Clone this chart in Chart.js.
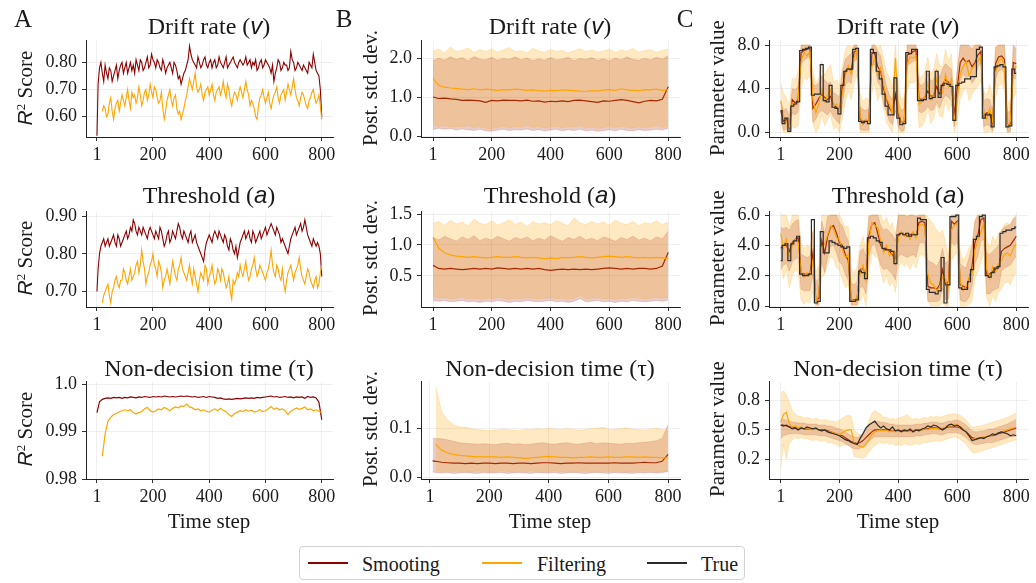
<!DOCTYPE html>
<html><head><meta charset="utf-8">
<script src="https://cdn.jsdelivr.net/npm/chart.js@4.4.1/dist/chart.umd.min.js"></script>
<style>
html,body{margin:0;padding:0;background:#fff}
#fig{position:relative;width:1036px;height:583px;overflow:hidden;background:#fff}
canvas{position:absolute}
.t{position:absolute;font-family:'Liberation Serif',serif;color:#1a1a1a;white-space:nowrap;line-height:1}
.c{transform:translate(-50%,-50%)}
.ttl{font-size:24px}
.yl{font-size:21px;transform:translate(-50%,-50%) rotate(-90deg)}
.xl{font-size:21px}
.pl{font-size:25px}
.m{font-family:'Liberation Sans',sans-serif;font-style:italic}
sup{font-size:0.62em;vertical-align:0.55em;line-height:0}
#leg{position:absolute;left:299px;top:546px;width:446px;height:34px;border:1px solid #d2d2d2;border-radius:4px;box-sizing:border-box;background:#fff}
.ls{position:absolute;top:15px;height:2px}
.lt{position:absolute;font-family:'Liberation Serif',serif;font-size:20px;line-height:1;top:7px;color:#1a1a1a}
</style></head>
<body><div id="fig">
<div class="t pl c" style="left:23px;top:18px">A</div>
<div class="t pl c" style="left:344px;top:18px">B</div>
<div class="t pl c" style="left:685px;top:18px">C</div>

<div class="t ttl c" style="left:209px;top:26px">Drift rate (<span class="m">v</span>)</div>
<div class="t ttl c" style="left:550px;top:26px">Drift rate (<span class="m">v</span>)</div>
<div class="t ttl c" style="left:898px;top:26px">Drift rate (<span class="m">v</span>)</div>
<div class="t ttl c" style="left:209px;top:195px">Threshold (<span class="m">a</span>)</div>
<div class="t ttl c" style="left:550px;top:195px">Threshold (<span class="m">a</span>)</div>
<div class="t ttl c" style="left:898px;top:195px">Threshold (<span class="m">a</span>)</div>
<div class="t ttl c" style="left:209px;top:368px">Non-decision time (τ)</div>
<div class="t ttl c" style="left:550px;top:368px">Non-decision time (τ)</div>
<div class="t ttl c" style="left:898px;top:368px">Non-decision time (τ)</div>

<div class="t yl" style="left:25px;top:88px"><span class="m">R</span><sup>2</sup> Score</div>
<div class="t yl" style="left:25px;top:258px"><span class="m">R</span><sup>2</sup> Score</div>
<div class="t yl" style="left:25px;top:429px"><span class="m">R</span><sup>2</sup> Score</div>
<div class="t yl" style="left:370px;top:88px">Post. std. dev.</div>
<div class="t yl" style="left:370px;top:258px">Post. std. dev.</div>
<div class="t yl" style="left:370px;top:429px">Post. std. dev.</div>
<div class="t yl" style="left:717px;top:88px">Parameter value</div>
<div class="t yl" style="left:717px;top:258px">Parameter value</div>
<div class="t yl" style="left:717px;top:429px">Parameter value</div>

<div class="t xl c" style="left:209px;top:521px">Time step</div>
<div class="t xl c" style="left:550px;top:521px">Time step</div>
<div class="t xl c" style="left:898px;top:521px">Time step</div>

<div id="leg">
<div class="ls" style="left:8px;width:40px;background:#8b0000"></div><div class="lt" style="left:62px">Smooting</div>
<div class="ls" style="left:182px;width:40px;background:#ffa500"></div><div class="lt" style="left:237px">Filtering</div>
<div class="ls" style="left:347px;width:40px;background:#2b2b2b"></div><div class="lt" style="left:401px">True</div>
</div>
</div>
<script>
// ---------- x grids (time steps) ----------
const S5 = [1,
5,10,15,20,25,30,35,40,45,50,55,60,65,70,75,80,85,90,95,100,
105,110,115,120,125,130,135,140,145,150,155,160,165,170,175,180,185,190,195,200,
205,210,215,220,225,230,235,240,245,250,255,260,265,270,275,280,285,290,295,300,
305,310,315,320,325,330,335,340,345,350,355,360,365,370,375,380,385,390,395,400,
405,410,415,420,425,430,435,440,445,450,455,460,465,470,475,480,485,490,495,500,
505,510,515,520,525,530,535,540,545,550,555,560,565,570,575,580,585,590,595,600,
605,610,615,620,625,630,635,640,645,650,655,660,665,670,675,680,685,690,695,700,
705,710,715,720,725,730,735,740,745,750,755,760,765,770,775,780,785,790,795,800];
const S10 = [1,10,20,30,40,50,60,70,80,90,100,110,120,130,140,150,160,170,180,190,200,210,220,230,240,250,260,270,280,290,300,310,320,330,340,350,360,370,380,390,400,410,420,430,440,450,460,470,480,490,500,510,520,530,540,550,560,570,580,590,600,610,620,630,640,650,660,670,680,690,700,710,720,730,740,750,760,770,780,790,800];
const S20 = [1,20,40,60,80,100,120,140,160,180,200,220,240,260,280,300,320,340,360,380,400,420,440,460,480,500,520,540,560,580,600,620,640,660,680,700,720,740,760,780,800];
const S20b = [10,20,40,60,80,100,120,140,160,180,200,220,240,260,280,300,320,340,360,380,400,420,440,460,480,500,520,540,560,580,600,620,640,660,680,700,720,740,760,780,800];

// ---------- tick values / labels ----------
const xTicks = [1,200,400,600,800];
const xTickLabels = ['1','200','400','600','800'];
const yTicksA1=[0.6,0.7,0.8], yLabA1=['0.60','0.70','0.80'];
const yTicksA2=[0.7,0.8,0.9], yLabA2=['0.70','0.80','0.90'];
const yTicksA3=[0.98,0.99,1.0], yLabA3=['0.98','0.99','1.0'];
const yTicksB1=[0,1,2], yLabB1=['0.0','1.0','2.0'];
const yTicksB2=[0.5,1.0,1.5], yLabB2=['0.5','1.0','1.5'];
const yTicksB3=[0,0.1], yLabB3=['0.0','0.1'];
const yTicksC1=[0,4,8], yLabC1=['0.0','4.0','8.0'];
const yTicksC2=[0,2,4,6], yLabC2=['0.0','2.0','4.0','6.0'];
const yTicksC3=[0.2,0.5,0.8], yLabC3=['0.2','0.5','0.8'];

// ---------- A: R2 scores ----------
const A1_smooth=[0.53,
0.72,0.78,0.80,0.76,0.73,0.79,0.76,0.74,0.78,0.77,0.73,0.75,0.77,0.79,0.74,0.77,0.79,0.80,0.76,0.78,
0.80,0.76,0.78,0.80,0.77,0.79,0.76,0.81,0.79,0.77,0.81,0.80,0.77,0.78,0.80,0.82,0.78,0.79,0.83,0.81,
0.80,0.78,0.81,0.80,0.78,0.77,0.81,0.79,0.76,0.78,0.79,0.80,0.78,0.76,0.80,0.79,0.77,0.74,0.75,0.72,
0.74,0.76,0.77,0.79,0.81,0.86,0.83,0.81,0.80,0.79,0.78,0.82,0.80,0.78,0.79,0.81,0.82,0.79,0.78,0.80,
0.81,0.78,0.80,0.81,0.78,0.79,0.82,0.80,0.79,0.78,0.80,0.82,0.78,0.79,0.80,0.81,0.82,0.80,0.79,0.78,
0.80,0.81,0.80,0.79,0.80,0.82,0.79,0.80,0.81,0.78,0.80,0.79,0.81,0.77,0.78,0.80,0.81,0.78,0.79,0.81,
0.80,0.79,0.78,0.76,0.79,0.73,0.76,0.78,0.81,0.80,0.77,0.78,0.80,0.79,0.79,0.77,0.78,0.84,0.81,0.80,
0.77,0.78,0.80,0.79,0.78,0.77,0.79,0.78,0.77,0.76,0.80,0.79,0.78,0.83,0.80,0.77,0.76,0.75,0.70,0.60];
const A1_filter=[null,
null,null,null,0.62,0.64,0.63,0.60,0.61,0.65,0.67,0.62,0.59,0.63,0.65,0.66,0.62,0.65,0.68,0.66,0.64,
0.67,0.70,0.66,0.63,0.69,0.67,0.68,0.65,0.67,0.71,0.68,0.64,0.66,0.69,0.70,0.66,0.68,0.72,0.69,0.67,
0.71,0.70,0.67,0.65,0.66,0.69,0.63,0.59,0.62,0.66,0.68,0.70,0.66,0.64,0.67,0.68,0.63,0.61,0.62,0.59,
0.61,0.63,0.66,0.68,0.71,0.74,0.72,0.70,0.73,0.76,0.71,0.69,0.70,0.72,0.68,0.66,0.69,0.70,0.71,0.68,
0.70,0.72,0.68,0.66,0.69,0.70,0.71,0.68,0.70,0.73,0.69,0.67,0.72,0.70,0.66,0.64,0.67,0.69,0.68,0.66,
0.69,0.71,0.69,0.67,0.70,0.73,0.70,0.68,0.64,0.66,0.65,0.63,0.60,0.59,0.64,0.67,0.68,0.70,0.67,0.65,
0.67,0.69,0.65,0.63,0.66,0.68,0.69,0.71,0.67,0.65,0.68,0.69,0.70,0.66,0.69,0.72,0.70,0.68,0.71,0.74,
0.70,0.67,0.66,0.64,0.67,0.69,0.68,0.66,0.64,0.63,0.66,0.67,0.69,0.70,0.67,0.65,0.66,0.68,0.64,0.59];
const A2_smooth=[0.70,
0.76,0.80,0.82,0.83,0.84,0.82,0.83,0.84,0.82,0.83,0.84,0.85,0.83,0.82,0.85,0.84,0.82,0.83,0.84,0.85,
0.86,0.84,0.85,0.87,0.86,0.89,0.88,0.86,0.85,0.87,0.86,0.85,0.87,0.86,0.85,0.84,0.86,0.87,0.86,0.85,
0.84,0.86,0.85,0.84,0.87,0.86,0.84,0.82,0.83,0.85,0.86,0.83,0.84,0.86,0.85,0.84,0.86,0.88,0.87,0.85,
0.84,0.86,0.85,0.84,0.83,0.85,0.86,0.83,0.84,0.85,0.83,0.82,0.81,0.80,0.79,0.78,0.81,0.83,0.84,0.85,
0.84,0.83,0.85,0.86,0.85,0.84,0.86,0.85,0.84,0.83,0.85,0.84,0.82,0.81,0.84,0.83,0.81,0.80,0.82,0.79,
0.81,0.83,0.84,0.85,0.86,0.84,0.85,0.86,0.84,0.83,0.86,0.85,0.83,0.84,0.85,0.86,0.84,0.85,0.86,0.87,
0.85,0.86,0.87,0.88,0.87,0.86,0.85,0.87,0.86,0.85,0.83,0.84,0.83,0.82,0.81,0.80,0.82,0.84,0.85,0.86,
0.87,0.85,0.86,0.87,0.88,0.86,0.87,0.89,0.87,0.85,0.84,0.83,0.82,0.84,0.83,0.82,0.83,0.82,0.80,0.74];
const A2_filter=[null,
null,null,null,0.67,0.69,0.70,0.71,0.72,0.69,0.67,0.70,0.71,0.73,0.74,0.72,0.71,0.73,0.73,0.76,0.75,
0.73,0.72,0.74,0.76,0.73,0.74,0.75,0.77,0.78,0.75,0.77,0.81,0.78,0.76,0.72,0.74,0.75,0.77,0.78,0.80,
0.77,0.76,0.74,0.78,0.77,0.75,0.71,0.73,0.74,0.76,0.74,0.72,0.75,0.78,0.76,0.74,0.73,0.76,0.77,0.79,
0.76,0.75,0.74,0.73,0.75,0.77,0.74,0.72,0.76,0.74,0.72,0.70,0.73,0.75,0.74,0.73,0.77,0.76,0.72,0.74,
0.75,0.77,0.74,0.72,0.73,0.76,0.75,0.73,0.76,0.75,0.73,0.71,0.72,0.74,0.70,0.68,0.73,0.72,0.73,0.75,
0.74,0.77,0.75,0.74,0.76,0.78,0.75,0.73,0.74,0.76,0.77,0.79,0.76,0.74,0.75,0.77,0.76,0.75,0.74,0.73,
0.75,0.76,0.78,0.81,0.77,0.75,0.74,0.77,0.76,0.74,0.73,0.76,0.72,0.70,0.73,0.75,0.76,0.77,0.75,0.73,
0.75,0.76,0.77,0.79,0.76,0.74,0.73,0.72,0.74,0.76,0.75,0.73,0.72,0.71,0.73,0.74,0.71,0.72,0.75,0.77];
const A3_smooth=[0.9940,
0.9963,0.9968,0.9970,0.9971,0.9970,0.9972,0.9971,0.9972,0.9970,0.9972,
0.9971,0.9973,0.9972,0.9971,0.9973,0.9972,0.9974,0.9973,0.9972,0.9974,
0.9973,0.9974,0.9973,0.9975,0.9974,0.9973,0.9974,0.9973,0.9974,0.9975,
0.9974,0.9975,0.9974,0.9973,0.9974,0.9972,0.9973,0.9974,0.9972,0.9974,
0.9973,0.9972,0.9970,0.9971,0.9969,0.9968,0.9969,0.9968,0.9969,0.9970,
0.9969,0.9970,0.9971,0.9970,0.9971,0.9970,0.9972,0.9971,0.9972,0.9973,
0.9974,0.9975,0.9973,0.9974,0.9972,0.9973,0.9974,0.9972,0.9973,0.9971,
0.9973,0.9972,0.9973,0.9970,0.9974,0.9972,0.9973,0.9971,0.9962,0.9925];
const A3_filter=[null,
null,0.9848,0.9895,0.9922,0.9930,0.9936,0.9938,0.9942,0.9944,0.9946,
0.9944,0.9946,0.9940,0.9937,0.9940,0.9942,0.9948,0.9951,0.9944,0.9941,
0.9944,0.9948,0.9946,0.9951,0.9948,0.9944,0.9949,0.9952,0.9950,0.9954,
0.9953,0.9958,0.9952,0.9950,0.9946,0.9948,0.9944,0.9946,0.9943,0.9941,
0.9945,0.9948,0.9944,0.9949,0.9945,0.9942,0.9936,0.9932,0.9938,0.9941,
0.9944,0.9942,0.9946,0.9943,0.9945,0.9941,0.9943,0.9946,0.9942,0.9944,
0.9948,0.9953,0.9947,0.9950,0.9946,0.9948,0.9944,0.9936,0.9943,0.9946,
0.9950,0.9947,0.9949,0.9952,0.9946,0.9948,0.9944,0.9946,0.9943,0.9940];

// ---------- B: posterior std. dev. ----------
const B1_smooth=[1.02, 0.98,0.99,0.97,0.96,0.93,0.94,0.93,0.92,0.88,0.93, 0.92,0.94,0.93,0.93,0.92,0.94,0.91,0.92,0.89,0.91, 0.90,0.92,0.90,0.93,0.94,0.92,0.90,0.88,0.92,0.91, 0.93,0.95,0.93,0.90,0.87,0.91,0.93,0.92,0.96,1.28];
const B1_filter=[1.50, 1.32,1.27,1.25,1.24,1.22,1.21,1.23,1.20,1.22,1.21, 1.19,1.21,1.20,1.22,1.21,1.19,1.20,1.18,1.17,1.19, 1.18,1.20,1.19,1.18,1.17,1.16,1.18,1.17,1.20,1.21, 1.19,1.23,1.20,1.19,1.18,1.21,1.20,1.22,1.19,1.21];
const B1_fHi=[2.20, 2.25,2.15,2.30,2.18,2.22,2.28,2.16,2.24,2.19,2.26, 2.17,2.23,2.29,2.18,2.21,2.15,2.27,2.20,2.16,2.24, 2.19,2.22,2.15,2.21,2.26,2.18,2.23,2.17,2.20,2.25, 2.16,2.22,2.19,2.27,2.17,2.21,2.24,2.16,2.22,2.25];
const B1_fLo=[0.30, 0.26,0.28,0.24,0.27,0.25,0.29,0.23,0.26,0.22,0.20, 0.24,0.27,0.23,0.26,0.25,0.28,0.24,0.26,0.22,0.25, 0.27,0.23,0.26,0.24,0.28,0.22,0.25,0.21,0.24,0.26, 0.23,0.27,0.24,0.22,0.26,0.23,0.25,0.28,0.24,0.27];
const B1_sHi=[1.95, 2.02,1.96,2.05,1.98,2.03,1.94,2.06,1.99,1.97,2.04, 1.96,2.01,1.98,2.05,1.97,2.02,1.95,2.00,1.96,2.03, 1.97,1.99,2.04,1.95,2.01,1.98,2.03,1.96,2.00,1.94, 2.02,1.97,2.05,1.98,1.96,2.01,1.97,2.04,1.99,2.08];
const B1_sLo=[0.18, 0.22,0.19,0.21,0.17,0.20,0.18,0.16,0.19,0.15,0.14, 0.17,0.19,0.16,0.18,0.17,0.20,0.16,0.18,0.15,0.17, 0.19,0.15,0.18,0.16,0.19,0.15,0.17,0.14,0.16,0.18, 0.15,0.19,0.16,0.15,0.18,0.16,0.17,0.19,0.17,0.22];

const B2_smooth=[0.67, 0.62,0.61,0.62,0.61,0.60,0.61,0.62,0.61,0.62,0.61, 0.63,0.62,0.61,0.62,0.61,0.62,0.61,0.62,0.60,0.59, 0.60,0.61,0.60,0.61,0.60,0.61,0.60,0.61,0.62,0.63, 0.62,0.61,0.62,0.61,0.62,0.62,0.61,0.62,0.66,0.88];
const B2_filter=[1.13, 0.95,0.87,0.84,0.82,0.81,0.80,0.81,0.80,0.79,0.80, 0.81,0.80,0.80,0.81,0.80,0.79,0.80,0.79,0.78,0.79, 0.78,0.80,0.79,0.80,0.81,0.80,0.79,0.80,0.81,0.82, 0.81,0.80,0.81,0.80,0.79,0.80,0.79,0.80,0.79,0.78];
const B2_fHi=[1.35, 1.38,1.32,1.40,1.34,1.37,1.31,1.42,1.35,1.33,1.39, 1.32,1.36,1.41,1.33,1.37,1.30,1.38,1.34,1.36,1.33, 1.39,1.35,1.31,1.44,1.36,1.33,1.38,1.34,1.37,1.32, 1.40,1.35,1.33,1.38,1.31,1.36,1.34,1.39,1.33,1.37];
const B2_fLo=[0.16, 0.14,0.15,0.13,0.14,0.15,0.13,0.14,0.12,0.14,0.13, 0.15,0.14,0.12,0.14,0.13,0.15,0.14,0.13,0.14,0.15, 0.13,0.14,0.12,0.14,0.18,0.13,0.14,0.15,0.13,0.14, 0.12,0.14,0.13,0.15,0.14,0.13,0.14,0.15,0.14,0.16];
const B2_sHi=[1.12, 1.08,1.14,1.10,1.06,1.13,1.09,1.15,1.07,1.11,1.08, 1.14,1.10,1.06,1.12,1.09,1.13,1.07,1.11,1.08,1.15, 1.10,1.06,1.12,1.09,1.14,1.08,1.11,1.07,1.13,1.10, 1.06,1.12,1.09,1.14,1.08,1.11,1.07,1.13,1.10,1.22];
const B2_sLo=[0.10, 0.09,0.10,0.08,0.09,0.10,0.08,0.09,0.07,0.09,0.08, 0.10,0.09,0.07,0.09,0.08,0.10,0.09,0.08,0.09,0.10, 0.08,0.09,0.07,0.09,0.13,0.08,0.09,0.10,0.08,0.09, 0.07,0.09,0.08,0.10,0.09,0.08,0.09,0.10,0.09,0.11];

const B3_smooth=[0.034, 0.033,0.031,0.030,0.029,0.029,0.028,0.029,0.028,0.029,0.029, 0.028,0.029,0.029,0.028,0.029,0.029,0.028,0.029,0.030,0.030, 0.029,0.028,0.029,0.029,0.030,0.029,0.029,0.029,0.029,0.029, 0.030,0.029,0.029,0.029,0.030,0.031,0.030,0.030,0.033,0.047];
const B3_sHi=[0.080, 0.080,0.079,0.077,0.074,0.071,0.070,0.069,0.068,0.069,0.068, 0.067,0.069,0.070,0.068,0.069,0.067,0.068,0.070,0.071,0.069, 0.068,0.070,0.071,0.069,0.068,0.070,0.072,0.069,0.071,0.070, 0.069,0.068,0.070,0.069,0.071,0.072,0.073,0.075,0.080,0.108];
const B3_sLo=[0.011, 0.010,0.009,0.010,0.008,0.009,0.010,0.009,0.008,0.010,0.009, 0.009,0.010,0.008,0.009,0.010,0.009,0.008,0.010,0.009,0.009, 0.010,0.008,0.009,0.010,0.009,0.008,0.009,0.010,0.009,0.008, 0.010,0.009,0.009,0.008,0.010,0.009,0.010,0.009,0.010,0.012];
const B3_filter=[null, 0.068,0.056,0.050,0.047,0.045,0.044,0.043,0.042,0.042,0.042, 0.042,0.041,0.042,0.041,0.040,0.039,0.040,0.041,0.042,0.043, 0.042,0.041,0.041,0.040,0.041,0.041,0.042,0.041,0.041,0.042, 0.041,0.041,0.042,0.042,0.041,0.042,0.041,0.041,0.040,0.040];
const B3_fHi=[null, 0.188,0.135,0.118,0.108,0.104,0.103,0.100,0.098,0.097,0.096, 0.097,0.099,0.098,0.097,0.096,0.099,0.098,0.100,0.099,0.101, 0.099,0.098,0.100,0.099,0.097,0.098,0.100,0.101,0.103,0.099, 0.098,0.100,0.102,0.099,0.098,0.097,0.099,0.101,0.098,0.097];
const B3_fLo=[null, 0.014,0.013,0.012,0.013,0.012,0.011,0.012,0.013,0.012,0.011, 0.012,0.013,0.012,0.011,0.012,0.012,0.013,0.012,0.011,0.012, 0.013,0.012,0.012,0.011,0.012,0.013,0.012,0.011,0.012,0.012, 0.013,0.012,0.011,0.012,0.012,0.013,0.012,0.011,0.012,0.013];

// ---------- C: parameter values ----------
const C1_true=[2.0,
0.8,1.3,0.1,2.4,2.6,2.8,7.5,7.6,7.7,7.8,
3.4,3.5,3.5,6.2,2.9,2.8,4.3,2.3,2.2,1.7,
4.3,5.6,5.8,5.8,7.6,7.7,1.0,0.9,1.0,0.8,
7.6,7.3,5.6,4.9,3.5,2.4,1.6,1.6,5.0,1.3,
0.7,0.8,7.3,7.2,7.6,7.6,2.9,2.9,3.0,5.6,
3.1,3.2,5.6,3.2,4.3,4.5,4.4,4.2,1.1,4.3,
4.5,4.6,4.9,4.9,5.1,5.1,7.6,7.8,1.3,1.6,
1.6,0.5,6.0,6.1,6.2,6.0,0.5,0.6,5.8,5.4];
const C1_smooth=[2.0,
1.0,1.2,0.4,3.0,2.7,3.0,7.3,7.5,7.6,7.7,
2.2,2.6,3.1,3.5,3.2,3.0,3.3,2.5,2.3,2.0,
4.0,5.6,5.9,5.7,7.4,7.5,1.2,1.0,1.0,1.0,
7.3,7.2,6.0,5.6,4.0,3.0,2.2,1.8,3.5,1.6,
0.9,1.0,7.1,7.2,7.4,7.5,3.1,3.0,3.2,3.8,
3.3,3.4,4.2,3.5,4.4,4.8,4.6,4.3,1.6,4.1,
6.4,6.8,6.4,6.6,6.0,6.4,7.1,7.4,1.5,1.8,
1.7,0.8,6.3,6.9,7.0,6.7,0.6,0.8,6.4,6.3];
const C1_filter=[2.9,
1.5,1.0,0.5,2.7,2.5,2.9,6.5,7.3,7.0,7.4,
3.0,1.8,2.6,3.9,2.8,3.4,3.9,2.4,2.6,2.0,
3.6,5.2,6.1,5.3,6.8,7.6,1.5,0.7,1.2,0.9,
6.0,6.8,5.2,5.9,4.4,3.1,2.6,1.7,6.8,2.0,
0.9,1.1,6.2,6.9,6.8,7.0,2.6,2.8,3.3,4.5,
3.0,3.5,4.9,3.8,3.6,5.3,4.2,4.9,0.9,3.2,
5.4,6.0,6.5,5.2,5.8,6.2,6.5,7.0,1.6,1.2,
2.2,1.0,5.5,6.5,6.8,6.2,0.4,1.0,5.3,6.1];
const C1_sHi=[2.7,
2.0,2.2,1.5,4.0,3.9,4.2,8.0,8.0,8.0,8.0,
4.4,4.3,4.5,5.2,4.8,4.5,4.6,3.6,3.5,3.2,
5.5,6.7,7.0,7.2,8.0,8.0,2.4,2.1,2.0,2.2,
8.0,8.0,7.5,7.0,5.5,4.2,3.4,3.0,5.0,2.8,
2.0,2.2,8.0,8.0,8.0,8.0,4.4,4.3,4.6,5.5,
4.7,4.8,5.8,5.0,5.8,6.3,6.0,5.8,3.0,5.8,
8.0,8.0,8.0,8.0,7.6,8.0,8.0,8.0,2.9,3.1,
3.0,2.0,7.8,8.0,8.0,8.0,1.8,2.0,8.0,7.6];
const C1_sLo=[1.2,
0.2,0.3,0.0,1.8,1.6,1.9,6.3,6.6,6.8,6.9,
0.9,1.2,1.8,2.0,1.8,1.6,2.0,1.4,1.1,0.8,
2.5,4.3,4.7,4.5,6.5,6.7,0.3,0.2,0.2,0.2,
6.2,6.2,4.6,4.2,2.6,1.8,1.0,0.7,2.0,0.5,
0.1,0.2,6.1,6.3,6.5,6.7,1.9,1.8,2.0,2.4,
2.0,2.1,2.8,2.2,3.0,3.4,3.2,2.9,0.5,2.6,
4.8,5.4,5.0,5.2,4.5,4.9,6.0,6.4,0.5,0.7,
0.6,0.1,4.9,5.6,5.8,5.4,0.0,0.1,5.0,4.9];
const C1_fHi=[4.5,
3.6,3.2,2.5,5.0,4.8,5.5,8.0,8.0,8.0,8.0,
5.4,4.5,5.0,6.5,5.2,5.8,6.2,4.6,4.8,4.3,
6.0,7.6,8.0,7.8,8.0,8.0,3.6,2.8,3.2,3.0,
8.0,8.0,7.8,8.0,6.8,5.5,5.0,4.0,8.0,4.2,
3.0,3.2,8.0,8.0,8.0,8.0,5.0,5.1,5.6,6.9,
5.3,5.8,7.2,6.1,6.0,7.6,6.5,7.2,3.0,5.6,
7.8,8.0,8.0,7.6,8.0,8.0,8.0,8.0,3.8,3.4,
4.4,3.1,7.8,8.0,8.0,8.0,2.5,3.1,7.6,8.0];
const C1_fLo=[1.3,
0.0,0.0,0.0,0.5,0.4,0.6,4.0,5.0,4.8,5.2,
0.8,0.0,0.4,1.6,0.6,1.2,1.6,0.3,0.5,0.0,
1.3,2.8,3.8,3.0,4.5,5.3,0.0,0.0,0.0,0.0,
3.6,4.5,2.9,3.6,2.1,0.9,0.4,0.0,4.4,0.0,
0.0,0.0,3.9,4.6,4.5,4.8,0.4,0.6,1.1,2.2,
0.8,1.3,2.6,1.5,1.4,3.0,2.0,2.6,0.0,1.0,
3.1,3.7,4.2,2.9,3.5,3.9,4.2,4.8,0.0,0.0,
0.1,0.0,3.2,4.2,4.5,3.9,0.0,0.0,3.0,3.8];

const C2_true=[3.0,
4.0,4.1,3.0,4.1,4.3,4.6,2.1,2.0,2.0,2.1,
5.7,0.2,0.3,4.9,3.5,3.5,4.3,4.2,4.1,4.0,
3.9,3.8,3.9,0.3,0.3,0.4,2.3,2.2,1.8,4.5,
4.6,4.5,4.3,4.2,3.8,3.7,3.7,3.6,2.8,4.7,
4.8,4.7,4.8,4.6,4.7,4.7,5.8,5.7,5.7,1.1,
0.9,0.9,0.8,1.0,3.2,0.2,1.4,5.9,5.9,6.0,
1.2,1.1,1.1,1.6,2.4,4.4,4.6,5.9,6.0,2.0,
1.9,2.2,2.5,2.6,4.8,4.9,5.0,5.0,5.1,5.2];
const C2_smooth=[3.8,
4.0,4.0,3.6,4.2,4.4,4.5,2.2,2.1,2.1,2.1,
3.5,0.4,0.5,4.3,3.5,4.6,5.2,5.3,4.8,4.2,
4.0,3.4,3.0,0.4,0.4,0.5,2.4,2.5,2.0,4.6,
5.4,5.5,4.8,4.0,3.7,3.8,3.6,3.4,3.0,4.7,
4.8,4.7,4.6,4.7,4.8,4.6,5.5,5.6,5.5,1.3,
1.2,1.2,1.1,1.4,2.4,1.4,1.6,5.6,5.4,5.6,
1.4,1.3,1.2,1.8,2.6,4.2,4.7,5.7,5.8,2.1,
2.1,2.3,2.4,2.5,3.6,3.8,3.9,4.0,4.3,4.6];
const C2_filter=[4.8,
3.8,4.4,3.2,4.0,4.4,4.2,2.3,1.9,2.2,2.0,
3.0,0.3,0.7,3.9,4.1,4.7,5.3,5.1,4.5,4.4,
3.7,3.2,3.4,0.5,0.3,0.6,2.1,2.7,1.7,4.2,
5.5,5.3,5.2,4.3,3.5,4.0,3.3,3.6,2.8,4.5,
4.9,4.6,4.8,4.4,4.9,4.5,5.3,5.4,5.2,2.1,
1.5,1.4,1.0,1.2,2.0,1.8,1.2,5.0,5.3,5.5,
1.6,1.0,1.3,1.9,2.1,3.7,4.3,4.9,5.5,2.4,
1.8,2.6,2.2,2.8,3.0,3.4,3.5,3.3,3.8,4.1];
const C2_sHi=[5.2,
5.1,5.2,5.0,5.4,5.6,5.7,3.4,3.3,3.2,3.3,
4.9,1.6,1.8,5.6,4.8,5.9,6.0,6.0,6.0,5.5,
5.3,4.7,4.3,1.5,1.4,1.6,3.6,3.8,3.3,5.9,
6.0,6.0,6.0,5.3,5.0,5.1,4.9,4.7,4.3,6.0,
6.0,6.0,5.9,6.0,6.0,5.9,6.0,6.0,6.0,3.0,
2.9,2.8,2.6,3.0,3.8,2.8,3.0,6.0,6.0,6.0,
2.8,2.6,2.5,3.2,4.0,5.6,6.0,6.0,6.0,3.5,
3.4,3.6,3.8,4.0,5.0,5.2,5.3,5.4,5.7,5.9];
const C2_sLo=[2.4,
2.7,2.8,2.3,2.9,3.1,3.2,1.1,1.0,1.0,1.0,
2.1,0.1,0.1,2.9,2.2,3.2,3.9,4.0,3.5,2.9,
2.7,2.1,1.7,0.1,0.1,0.1,1.2,1.3,0.8,3.2,
4.0,4.1,3.4,2.7,2.4,2.5,2.3,2.1,1.7,3.3,
3.4,3.3,3.2,3.3,3.4,3.2,4.1,4.2,4.1,0.3,
0.3,0.3,0.3,0.4,1.2,0.4,0.5,4.2,4.0,4.2,
0.4,0.3,0.3,0.6,1.3,2.8,3.3,4.3,4.4,0.8,
0.8,1.0,1.1,1.2,2.3,2.5,2.6,2.7,3.0,3.3];
const C2_fHi=[6.0,
6.0,6.0,5.2,6.0,6.0,6.0,4.2,3.8,4.0,3.9,
5.0,2.2,2.7,6.0,6.0,6.0,6.0,6.0,6.0,6.0,
5.6,5.2,5.3,2.5,2.2,2.6,4.0,4.6,3.6,6.0,
6.0,6.0,6.0,6.0,5.5,5.9,5.2,5.5,4.7,6.0,
6.0,6.0,6.0,6.0,6.0,6.0,6.0,6.0,6.0,5.9,
5.6,5.4,5.0,4.8,5.0,4.2,3.2,6.0,6.0,6.0,
3.6,3.0,3.3,3.9,4.1,5.7,6.0,6.0,6.0,4.4,
3.8,4.6,4.2,4.8,5.0,5.4,5.5,5.3,5.8,6.0];
const C2_fLo=[2.8,
1.8,2.4,1.2,2.0,2.4,2.2,0.4,0.1,0.3,0.2,
1.0,0.0,0.0,1.9,2.1,2.7,3.3,3.1,2.5,2.4,
1.7,1.2,1.4,0.0,0.0,0.0,0.3,0.8,0.0,2.2,
3.5,3.3,3.2,2.3,1.5,2.0,1.3,1.6,0.9,2.5,
2.9,2.6,2.8,2.4,2.9,2.5,3.3,3.4,3.2,0.4,
0.0,0.0,0.0,0.0,0.2,0.0,0.0,3.0,3.3,3.5,
0.0,0.0,0.0,0.1,0.3,1.8,2.3,2.9,3.5,0.5,
0.0,0.7,0.3,0.9,1.1,1.5,1.6,1.4,1.9,2.2];

const C3_true=[0.55,
0.54,0.55,0.53,0.51,0.52,0.50,0.52,0.51,0.53,0.52,
0.51,0.52,0.50,0.49,0.50,0.48,0.47,0.46,0.45,0.44,
0.42,0.40,0.39,0.37,0.36,0.35,0.41,0.46,0.52,0.55,
0.57,0.59,0.55,0.52,0.54,0.51,0.50,0.53,0.49,0.50,
0.48,0.50,0.49,0.51,0.48,0.50,0.49,0.51,0.52,0.54,
0.53,0.55,0.54,0.52,0.50,0.52,0.55,0.56,0.54,0.55,
0.53,0.50,0.48,0.44,0.39,0.40,0.41,0.42,0.41,0.43,
0.44,0.46,0.45,0.47,0.48,0.47,0.46,0.44,0.45,0.44];
const C3_smooth=[0.55,
0.55,0.54,0.53,0.53,0.52,0.52,0.52,0.51,0.51,0.51,
0.51,0.51,0.50,0.50,0.50,0.49,0.48,0.47,0.46,0.45,
0.44,0.42,0.40,0.38,0.37,0.36,0.37,0.39,0.42,0.45,
0.48,0.50,0.50,0.50,0.50,0.50,0.49,0.49,0.49,0.49,
0.49,0.49,0.49,0.49,0.49,0.50,0.50,0.50,0.51,0.51,
0.52,0.52,0.52,0.51,0.51,0.52,0.53,0.53,0.53,0.53,
0.52,0.50,0.48,0.45,0.42,0.41,0.41,0.42,0.42,0.43,
0.44,0.44,0.45,0.46,0.47,0.48,0.49,0.50,0.51,0.52];
const C3_filter=[0.58,
0.66,0.68,0.56,0.53,0.54,0.52,0.53,0.51,0.52,0.51,
0.50,0.51,0.50,0.49,0.50,0.48,0.48,0.47,0.46,0.45,
0.47,0.49,0.50,0.50,0.36,0.35,0.33,0.32,0.35,0.40,
0.45,0.48,0.49,0.50,0.49,0.50,0.48,0.49,0.48,0.49,
0.48,0.50,0.49,0.48,0.49,0.50,0.49,0.50,0.51,0.50,
0.52,0.51,0.52,0.51,0.52,0.53,0.54,0.55,0.56,0.55,
0.53,0.51,0.47,0.43,0.40,0.41,0.42,0.42,0.43,0.43,
0.44,0.45,0.46,0.47,0.48,0.49,0.50,0.51,0.52,0.53];
const C3_sHi=[0.60,
0.61,0.60,0.59,0.58,0.58,0.57,0.57,0.57,0.56,0.56,
0.56,0.56,0.55,0.55,0.55,0.54,0.54,0.53,0.52,0.51,
0.50,0.48,0.46,0.44,0.43,0.42,0.44,0.47,0.50,0.54,
0.57,0.59,0.59,0.58,0.58,0.57,0.56,0.56,0.55,0.55,
0.55,0.55,0.55,0.55,0.55,0.56,0.56,0.56,0.57,0.57,
0.58,0.58,0.58,0.57,0.57,0.58,0.59,0.59,0.60,0.60,
0.59,0.57,0.55,0.52,0.49,0.48,0.48,0.49,0.49,0.50,
0.51,0.51,0.52,0.53,0.54,0.55,0.56,0.58,0.59,0.61];
const C3_sLo=[0.41,
0.44,0.45,0.46,0.46,0.46,0.46,0.46,0.45,0.45,0.45,
0.45,0.45,0.44,0.44,0.44,0.43,0.42,0.41,0.40,0.39,
0.38,0.36,0.34,0.32,0.31,0.30,0.31,0.33,0.36,0.38,
0.41,0.43,0.43,0.43,0.43,0.43,0.43,0.43,0.43,0.43,
0.43,0.43,0.43,0.43,0.43,0.44,0.44,0.44,0.45,0.45,
0.46,0.46,0.46,0.45,0.45,0.46,0.47,0.47,0.47,0.47,
0.46,0.44,0.42,0.39,0.36,0.35,0.35,0.36,0.36,0.37,
0.37,0.37,0.38,0.39,0.40,0.41,0.42,0.43,0.43,0.44];
const C3_fHi=[0.88,
0.90,0.86,0.78,0.70,0.66,0.64,0.64,0.62,0.63,0.62,
0.61,0.62,0.61,0.60,0.61,0.60,0.59,0.59,0.58,0.60,
0.62,0.64,0.65,0.64,0.50,0.47,0.45,0.44,0.50,0.60,
0.67,0.70,0.68,0.66,0.63,0.63,0.61,0.62,0.61,0.62,
0.63,0.64,0.66,0.62,0.61,0.62,0.61,0.62,0.63,0.62,
0.64,0.63,0.64,0.63,0.64,0.65,0.66,0.66,0.67,0.66,
0.65,0.63,0.60,0.56,0.53,0.53,0.54,0.54,0.55,0.56,
0.57,0.58,0.59,0.60,0.61,0.62,0.63,0.64,0.66,0.67];
const C3_fLo=[0.10,
0.35,0.20,0.36,0.40,0.42,0.41,0.42,0.41,0.41,0.40,
0.39,0.40,0.39,0.38,0.39,0.37,0.37,0.36,0.35,0.33,
0.34,0.35,0.35,0.34,0.23,0.22,0.21,0.21,0.23,0.27,
0.31,0.34,0.36,0.37,0.36,0.37,0.35,0.36,0.34,0.35,
0.34,0.36,0.35,0.34,0.35,0.36,0.35,0.36,0.37,0.37,
0.38,0.38,0.39,0.38,0.39,0.40,0.41,0.42,0.43,0.42,
0.40,0.38,0.35,0.31,0.27,0.26,0.27,0.28,0.29,0.30,
0.31,0.32,0.33,0.34,0.35,0.36,0.37,0.38,0.39,0.40];

// ---------- styling / layout ----------
const SM='#8b0000', FI='#ffa500', TR='#2b2b2b';
const SB='rgba(139,0,0,0.20)', FB='rgba(255,165,0,0.24)';
const FONT="'Liberation Serif', serif";
const COLS={A:[86,333],B:[421,680],C:[769,1028]};
const ROWS=[[39,137],[210,307],[380,479]];
const fig=document.getElementById('fig');

function pts(xs,ys){return xs.map((x,i)=>({x:x,y:ys[i]}));}
function ln(xs,ys,color,order,extra){return Object.assign({data:pts(xs,ys),borderColor:color,backgroundColor:color,borderWidth:1.2,pointRadius:0,fill:false,order:order},extra||{});}
function band(xs,lo,hi,color,order){return [
 {data:pts(xs,lo),borderColor:color,backgroundColor:color,borderWidth:0.8,pointRadius:0,fill:false,order:order},
 {data:pts(xs,hi),borderColor:color,backgroundColor:color,borderWidth:0.8,pointRadius:0,fill:'-1',order:order}];}

function panel(col,row,xr,yr,yt,yl,datasets){
 const L=COLS[col][0],R=COLS[col][1],T=ROWS[row][0],B=ROWS[row][1];
 const YW=60,PT=14,PR=16,XH=34;
 const W=R-L+YW+PR,H=B-T+PT+XH;
 const cv=document.createElement('canvas');
 cv.width=W;cv.height=H;
 cv.style.left=(L-YW)+'px';cv.style.top=(T-PT)+'px';cv.style.width=W+'px';cv.style.height=H+'px';
 fig.insertBefore(cv,fig.firstChild);
 const grid={color:'#ebebeb',lineWidth:0.8,tickLength:4,tickColor:'#333',tickWidth:1};
 const tfont={family:FONT,size:18};
 new Chart(cv,{type:'line',data:{datasets:datasets},options:{
  responsive:false,animation:false,devicePixelRatio:1,
  layout:{padding:{top:PT,right:PR,left:0,bottom:0}},
  plugins:{legend:{display:false},tooltip:{enabled:false}},
  scales:{
   x:{type:'linear',min:xr[0],max:xr[1],
      afterBuildTicks:s=>{s.ticks=xTicks.map(v=>({value:v}));},
      afterFit:s=>{s.height=XH;},
      ticks:{autoSkip:false,maxRotation:0,minRotation:0,padding:3,color:'#1a1a1a',font:tfont,callback:(v,i)=>xTickLabels[i]},
      grid:grid,border:{display:true,color:'#222',width:1}},
   y:{type:'linear',min:yr[0],max:yr[1],
      afterBuildTicks:s=>{s.ticks=yt.map(v=>({value:v}));},
      afterFit:s=>{s.width=YW;},
      ticks:{autoSkip:false,padding:5,color:'#1a1a1a',font:tfont,callback:(v,i)=>yl[i]},
      grid:grid,border:{display:true,color:'#222',width:1}}
  }}});
}

// A column
panel('A',0,[-38,840],[0.5251,0.8796],yTicksA1,yLabA1,[ln(S5,A1_smooth,SM,5,{borderWidth:1.1}),ln(S5,A1_filter,FI,3,{borderWidth:1.1})]);
panel('A',1,[-38,840],[0.6592,0.9112],yTicksA2,yLabA2,[ln(S5,A2_smooth,SM,5,{borderWidth:1.1}),ln(S5,A2_filter,FI,3,{borderWidth:1.1})]);
panel('A',2,[-38,840],[0.98,1.0005],yTicksA3,yLabA3,[ln(S10,A3_smooth,SM,5),ln(S10,A3_filter,FI,3)]);
// B column
panel('B',0,[-40,840],[-0.0076,2.461],yTicksB1,yLabB1,[...band(S20,B1_sLo,B1_sHi,SB,7),ln(S20,B1_smooth,SM,5),...band(S20,B1_fLo,B1_fHi,FB,4),ln(S20,B1_filter,FI,3)]);
panel('B',1,[-40,840],[-0.0032,1.5365],yTicksB2,yLabB2,[...band(S20,B2_sLo,B2_sHi,SB,7),ln(S20,B2_smooth,SM,5),...band(S20,B2_fLo,B2_fHi,FB,4),ln(S20,B2_filter,FI,3)]);
panel('B',2,[-29,840],[-0.0034,0.1962],yTicksB3,yLabB3,[...band(S20b,B3_sLo,B3_sHi,SB,7),ln(S20b,B3_smooth,SM,5),...band(S20b,B3_fLo,B3_fHi,FB,4),ln(S20b,B3_filter,FI,3)]);
// C column
panel('C',0,[-39,840],[-0.422,8.387],yTicksC1,yLabC1,[...band(S10,C1_sLo,C1_sHi,SB,7),ln(S10,C1_smooth,SM,5),...band(S10,C1_fLo,C1_fHi,FB,4),ln(S10,C1_filter,FI,3),ln(S10,C1_true,TR,1,{stepped:'middle'})]);
panel('C',1,[-39,840],[-0.065,6.214],yTicksC2,yLabC2,[...band(S10,C2_sLo,C2_sHi,SB,7),ln(S10,C2_smooth,SM,5),...band(S10,C2_fLo,C2_fHi,FB,4),ln(S10,C2_filter,FI,3),ln(S10,C2_true,TR,1,{stepped:'middle'})]);
panel('C',2,[-39,840],[-0.005,0.995],yTicksC3,yLabC3,[...band(S10,C3_sLo,C3_sHi,SB,7),ln(S10,C3_smooth,SM,5),...band(S10,C3_fLo,C3_fHi,FB,4),ln(S10,C3_filter,FI,3),ln(S10,C3_true,TR,1)]);
</script>
</body></html>
